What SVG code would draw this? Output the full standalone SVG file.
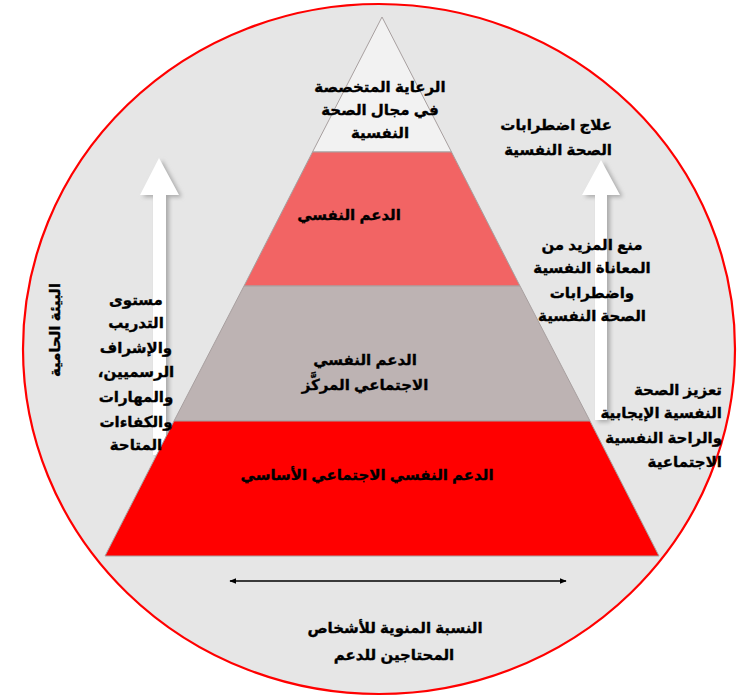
<svg xmlns="http://www.w3.org/2000/svg" width="749" height="700" viewBox="0 0 749 700">
<defs>
<style>
.t{font-family:"Liberation Sans","DejaVu Sans","Noto Sans",sans-serif;font-weight:bold;font-size:15px;fill:#000;stroke:#000;stroke-width:0.35;direction:rtl;}
.band{stroke:#A8A0A0;stroke-width:1;}
.arrow{fill:#FFFFFF;filter:url(#sh);}
</style>
<filter id="sh" x="-50%" y="-20%" width="200%" height="140%">
<feDropShadow dx="3" dy="2" stdDeviation="2" flood-color="#9A9A9A" flood-opacity="0.8"/>
</filter>
<marker id="ah" viewBox="0 0 10 10" refX="9" refY="5" markerWidth="7" markerHeight="7" orient="auto-start-reverse" markerUnits="userSpaceOnUse">
<path d="M0,1 L10,5 L0,9 Z" fill="#000"/>
</marker>
</defs>
<g id="background">
<ellipse cx="379" cy="349" rx="356" ry="345" fill="#E6E6E6" stroke="#FF0000" stroke-width="2.2"/>
</g>
<g id="arrows-up">
<path class="arrow" d="M159,158 L179,195 L166,195 L166,455 L153,455 L153,195 L140,195 Z"/>
<path class="arrow" d="M601,160 L620,195 L607,195 L607,420 L595,420 L595,195 L582,195 Z"/>
</g>
<g id="pyramid">
<g id="level-specialised"><polygon class="band" points="382,17 451.5,152 312.5,152" fill="#F2F2F2"/></g>
<g id="level-psych"><polygon class="band" points="312.5,152 451.5,152 520,286 244,286" fill="#F26464"/></g>
<g id="level-focused"><polygon class="band" points="244,286 520,286 590,421 174,421" fill="#BDB3B3"/></g>
<g id="level-basic"><polygon class="band" points="174,421 590,421 659,556 105,556" fill="#FF0000"/></g>
</g>
<g id="connectors">
<line x1="230" y1="581" x2="566" y2="581" stroke="#000" stroke-width="1.3" marker-start="url(#ah)" marker-end="url(#ah)"/>
</g>
<g id="labels">
<text class="t" text-anchor="middle" x="380" y="92">الرعاية المتخصصة</text>
<text class="t" text-anchor="middle" x="380" y="115">في مجال الصحة</text>
<text class="t" text-anchor="middle" x="380" y="138">النفسية</text>
<text class="t" text-anchor="middle" x="349" y="220">الدعم النفسي</text>
<text class="t" text-anchor="middle" x="365" y="365">الدعم النفسي</text>
<text class="t" text-anchor="middle" x="365" y="390">الاجتماعي المركَّز</text>
<text class="t" text-anchor="middle" x="367" y="480">الدعم النفسي الاجتماعي الأساسي</text>
<text class="t" text-anchor="start" x="612" y="130">علاج اضطرابات</text>
<text class="t" text-anchor="start" x="612" y="155">الصحة النفسية</text>
<text class="t" text-anchor="middle" x="592" y="250">منع المزيد من</text>
<text class="t" text-anchor="middle" x="592" y="273">المعاناة النفسية</text>
<text class="t" text-anchor="middle" x="592" y="298">واضطرابات</text>
<text class="t" text-anchor="middle" x="592" y="321">الصحة النفسية</text>
<text class="t" text-anchor="middle" x="136" y="305">مستوى</text>
<text class="t" text-anchor="middle" x="136" y="328">التدريب</text>
<text class="t" text-anchor="middle" x="136" y="353">والإشراف</text>
<text class="t" text-anchor="middle" x="136" y="377">الرسميين،</text>
<text class="t" text-anchor="middle" x="136" y="402">والمهارات</text>
<text class="t" text-anchor="middle" x="136" y="427">والكفاءات</text>
<text class="t" text-anchor="middle" x="136" y="450">المتاحة</text>
<text class="t" text-anchor="middle" transform="translate(60,330) rotate(-90)" x="0" y="0">البيئة الحامية</text>
<text class="t" text-anchor="start" x="722" y="395">تعزيز الصحة</text>
<text class="t" text-anchor="start" x="722" y="418">النفسية الإيجابية</text>
<text class="t" text-anchor="start" x="722" y="443">والراحة النفسية</text>
<text class="t" text-anchor="start" x="722" y="467">الاجتماعية</text>
<text class="t" text-anchor="middle" x="395" y="633">النسبة المنوية للأشخاص</text>
<text class="t" text-anchor="middle" x="394" y="660">المحتاجين للدعم</text>
</g>
</svg>
